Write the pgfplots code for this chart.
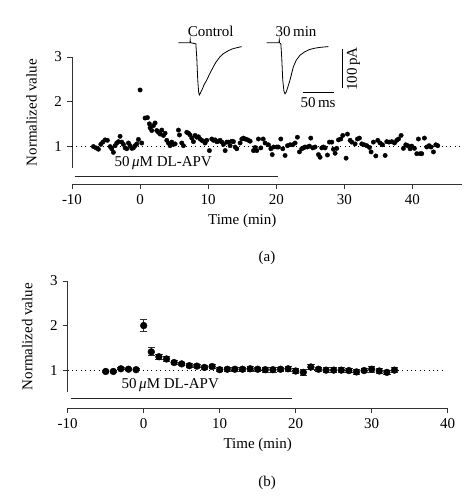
\documentclass[border=0pt]{standalone}
\usepackage{pgfplots}
\pgfplotsset{compat=1.18}
\usepackage{fontspec}
\setmainfont{Liberation Serif}
\newcommand{\fs}{\fontsize{15}{17}\selectfont}
\pgfplotsset{
  panel/.style={
    scale only axis, anchor=south west, height=127pt,
    ymin=0.15, ymax=3, ytick={1,2,3}, xmin=-10,
    xtick={-10,0,10,20,30,40},
    axis x line*=bottom, axis y line*=left,
    x axis line style={-, black!80, line width=0.8pt},
    y axis line style={draw=none},
    tick align=outside, major tick length=5pt,
    tick style={black!80, line width=0.8pt},
    tick label style={font=\fs},
    /pgf/number format/assume math mode=true,
    clip=false,
  }
}
\begin{document}
\fs
\begin{tikzpicture}
\useasboundingbox (0pt,0pt) rectangle (475pt,498pt);

% ---------------- panel (a)
\begin{axis}[panel, at={(72pt,314pt)}, width=390pt, xmax=47.27]
\draw[black!80, line width=0.8pt] (axis cs:-10,0.5) -- (axis cs:-10,3);
\addplot[black, line width=0.6pt, dash pattern=on 0.8pt off 3.6pt] coordinates {(-10,1) (47,1)};
\addplot[black!85, line width=0.9pt] coordinates {(-9.6,0.33) (20.3,0.33)};
\node[anchor=south, font=\fs] at (axis cs:3.4,0.35) {50\,\textit{μ}M DL-APV};
\node[anchor=north, font=\fs] at ([yshift=-25pt]axis cs:15,0.15) {Time (min)};
\node[anchor=south, rotate=90, font=\fs] at ([xshift=-30pt]axis cs:-10,1.75) {Normalized value};
\addplot[only marks, mark=*, mark size=2.2pt, black] coordinates {
(-6.85,0.99) (-6.46,0.96) (-6.12,0.93) (-5.77,1.04) (-5.48,1.09) (-5.14,1.14)
(-4.80,1.13) (-4.40,0.99) (-4.16,0.94) (-3.92,0.86) (-3.67,1.01) (-3.43,1.07)
(-3.18,1.10) (-2.94,1.22) (-2.69,1.09) (-2.45,1.04) (-2.20,0.96) (-1.96,0.94)
(-1.71,1.07) (-1.47,1.01) (-1.22,0.95) (-0.98,0.96) (-0.73,1.01) (-0.49,1.05)
(-0.24,1.15) (0,2.26) (0.24,1.07) (0.73,1.63) (1.08,1.64) (1.37,1.50)
(1.47,1.41) (1.71,1.35) (1.96,1.46) (2.20,1.52) (2.45,1.35) (2.69,1.31)
(2.94,1.27) (3.18,1.36) (3.43,1.24) (3.67,1.29) (3.92,1.13) (4.16,1.07)
(4.40,1.01) (4.65,1.09) (4.89,1.04) (5.14,1.05) (5.63,1.36) (5.78,1.25)
(6.12,1.07) (6.36,1.01) (6.85,1.31) (7.10,1.29) (7.34,1.25) (7.59,1.18)
(7.83,1.10) (8.08,1.24) (8.32,1.20) (8.57,1.21) (8.81,1.16) (9.06,1.13)
(9.30,1.11) (9.55,1.07) (9.79,1.13) (10.18,0.90) (10.53,1.16) (10.77,1.13)
(11.02,1.14) (11.26,1.10) (11.51,1.11) (11.75,1.13) (12.00,1.09) (12.24,1.04)
(12.49,0.90) (12.73,1.09) (12.98,1.09) (13.22,1.01) (13.47,1.11) (13.71,1.10)
(13.96,0.98) (14.20,0.94) (14.69,1.07) (14.94,1.16) (15.18,1.18) (15.43,1.16)
(15.67,1.15) (15.92,1.13) (16.16,1.11) (16.65,0.90) (16.89,0.97) (17.14,0.90)
(17.38,1.16) (17.73,0.96) (18.07,1.16) (18.36,1.07) (18.85,1.03) (19.20,0.94)
(19.40,0.81) (19.60,0.98) (20.07,0.98) (20.31,0.98) (20.66,1.16) (20.95,0.94)
(21.29,0.79) (21.64,1.01) (22.03,1.03) (22.42,1.03) (22.76,1.07) (23.10,1.20)
(23.40,0.87) (23.74,0.94) (23.99,0.96) (24.23,0.98) (24.57,0.98) (24.87,1.00)
(25.06,1.18) (25.36,0.96) (25.70,0.98) (26.19,0.81) (26.43,0.75) (26.68,0.96)
(26.92,0.98) (27.17,0.96) (27.51,0.80) (27.80,1.09) (28.15,1.09) (28.39,0.93)
(28.64,0.84) (28.88,0.95) (29.13,1.14) (29.47,1.16) (29.76,1.24) (30.25,0.73)
(30.45,1.27) (30.84,1.13) (31.08,1.09) (31.57,1.05) (31.92,1.16) (32.21,1.18)
(32.55,1.05) (32.89,1.03) (33.29,1.01) (33.68,0.97) (33.92,0.87) (34.26,1.09)
(34.61,0.78) (34.90,1.13) (35.24,1.07) (35.59,1.03) (35.98,0.79) (36.22,1.10)
(36.56,1.09) (36.96,1.10) (37.35,1.07) (37.69,1.13) (37.94,1.16) (38.33,1.24)
(38.67,0.95) (39.01,1.03) (39.31,1.01) (39.65,0.94) (39.89,1.00) (40.28,0.95)
(40.63,0.83) (40.87,1.16) (41.12,0.83) (41.36,0.83) (41.75,1.18) (42.10,0.98)
(42.44,1.01) (42.73,0.98) (43.08,0.87) (43.42,1.03) (43.71,1.01)
};
\end{axis}

% ---------------- inset traces
\begin{axis}[scale only axis, anchor=south west, at={(178.3pt,396.8pt)},
  width=175.6pt, height=66.3pt, xmin=0, xmax=280, ymin=-150, ymax=20,
  hide axis, clip=false]
\addplot[black, line width=0.8pt] coordinates {
(0,0) (18.5,0) (19,7) (19.5,0) (28,-3) (29.5,-40) (31,-95) (32.5,-128) (33.5,-134)
(35,-130) (38,-120) (41,-108) (45.3,-96) (50,-80) (55.8,-62) (60,-50) (66.5,-36)
(72,-28) (79.8,-20.5) (86,-16) (93,-13) (101,-10)};
\addplot[black, line width=0.8pt] coordinates {
(141,0) (160.5,0) (161,7) (161.5,0) (163.5,-3) (165,-40) (166.5,-95) (168.5,-125)
(170.2,-131) (172,-127) (175,-112) (178.1,-96) (183.4,-62) (188,-45) (194.1,-32)
(202,-23) (210,-17) (218,-14) (226,-12) (239.2,-10)};
\addplot[black, line width=0.9pt] coordinates {(261.6,-17) (261.6,-117)};
\addplot[black, line width=0.9pt] coordinates {(198.4,-127) (248.3,-127)};
\node[font=\fs] at (axis cs:51.7,28.2) {Control};
\node[font=\fs] at (axis cs:187.7,28.2) {30\,min};
\node[font=\fs, rotate=90] at (axis cs:279.5,-68) {100\,pA};
\node[font=\fs] at (axis cs:222.8,-153) {50\,ms};
\end{axis}

% ---------------- panel (b)
\begin{axis}[panel, at={(67.7pt,90pt)}, width=380pt, xmax=40]
\draw[black!80, line width=0.8pt] (axis cs:-10,0.5) -- (axis cs:-10,3);
\addplot[black, line width=0.6pt, dash pattern=on 0.8pt off 3.6pt] coordinates {(-10,1) (39.6,1)};
\addplot[black!85, line width=0.9pt] coordinates {(-9.6,0.37) (19.5,0.37)};
\node[anchor=south, font=\fs] at (axis cs:3.5,0.39) {50\,\textit{μ}M DL-APV};
\node[anchor=north, font=\fs] at ([yshift=-25pt]axis cs:15,0.15) {Time (min)};
\node[anchor=south, rotate=90, font=\fs] at ([xshift=-30pt]axis cs:-10,1.75) {Normalized value};
\addplot[only marks, mark=*, mark size=3.4pt, black,
  error bars/.cd, y dir=both, y explicit,
  error bar style={line width=0.8pt, black!80},
  error mark options={rotate=90, mark size=3.6pt, line width=0.8pt, black!80}]
  table[x=x, y=y, y error=e] {
x y e
-5 0.97 0.02
-4 0.97 0.02
-3 1.03 0.02
-2 1.02 0.02
-1 1.01 0.02
0 2.00 0.14
1 1.41 0.09
2 1.30 0.06
3 1.25 0.05
4 1.17 0.05
5 1.14 0.04
6 1.10 0.04
7 1.09 0.04
8 1.06 0.04
9 1.08 0.04
10 1.01 0.04
11 1.02 0.05
12 1.02 0.05
13 1.02 0.05
14 1.03 0.05
15 1.02 0.05
16 1.01 0.05
17 1.01 0.05
18 1.02 0.05
19 1.03 0.05
20 0.98 0.05
21 0.95 0.06
22 1.07 0.05
23 1.02 0.05
24 1.00 0.05
25 1.00 0.05
26 1.00 0.05
27 0.99 0.05
28 0.96 0.05
29 0.99 0.05
30 1.02 0.06
31 0.98 0.05
32 0.95 0.05
33 1.00 0.06
};
\end{axis}

\node[font=\fs] at (267pt,240pt) {(a)};
\node[font=\fs] at (267pt,15pt) {(b)};
\end{tikzpicture}
\end{document}
